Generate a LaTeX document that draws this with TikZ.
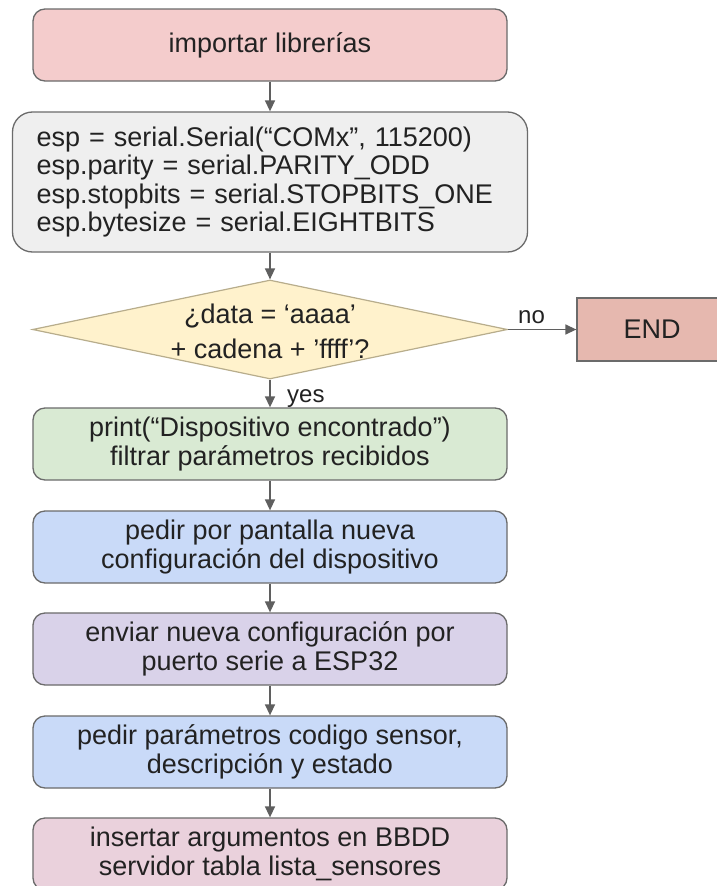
\documentclass[tikz,border=0pt]{standalone}
\usepackage{fontspec}
\setmainfont{Liberation Sans}
\usetikzlibrary{shapes.geometric,arrows.meta}

\definecolor{txt}{HTML}{222222}
\definecolor{bordergray}{HTML}{6B6B6B}
\definecolor{arrowgray}{HTML}{5F5F5F}
\definecolor{decborder}{HTML}{B8AD8C}
\definecolor{cImport}{HTML}{F4CCCC}
\definecolor{cSerial}{HTML}{EFEFEF}
\definecolor{cDecision}{HTML}{FFF2CC}
\definecolor{cEnd}{HTML}{E6B8AF}
\definecolor{cGreen}{HTML}{D9EAD3}
\definecolor{cBlue}{HTML}{C9DAF8}
\definecolor{cPurple}{HTML}{D9D2E9}
\definecolor{cPink}{HTML}{EAD1DC}

\begin{document}
\begin{tikzpicture}[x=1pt,y=-1pt,
  every node/.style={text=txt},
  box/.style={draw=bordergray, line width=1.3pt, rounded corners=12pt,
    minimum width=474pt, minimum height=72pt, align=center, inner sep=0pt,
    font=\fontsize{27}{28.5}\selectfont},
  flow/.style={draw=arrowgray, line width=1.4pt,
    -{Triangle[length=11pt,width=10pt]}},
  lbl/.style={font=\fontsize{24}{26}\selectfont, inner sep=0pt}
]
\useasboundingbox (0,0) rectangle (717,886);
\clip (0,0) rectangle (717,886);
\fill[white] (0,0) rectangle (717,886);

% process steps
\node[box, fill=cImport] (imp) at (270,45) {importar librerías};
\node[box, fill=cSerial, rounded corners=20pt, minimum width=0pt,
      text width=467pt, inner xsep=24pt, minimum height=140pt, align=left]
      (ser) at (270,182)
      {esp = serial.Serial(“COMx”, 115200)\\
       esp.parity = serial.PARITY\_ODD\\
       esp.stopbits = serial.STOPBITS\_ONE\\
       esp.bytesize = serial.EIGHTBITS};

% decision
\node[diamond, draw=decborder, fill=cDecision, line width=1.2pt,
      minimum width=475pt, minimum height=99pt, inner sep=0pt]
      (dec) at (270,329.5) {};
\node[font=\fontsize{27}{35}\selectfont, align=center, inner sep=0pt]
      (dectext) at ([yshift=-2pt]dec.center) {¿data = ‘aaaa’\\+ cadena + ’ffff’?};

\node[draw=bordergray, fill=cEnd, line width=1.3pt, minimum width=150pt,
      minimum height=63pt, font=\fontsize{27}{28}\selectfont]
      (end) at (652,329.5) {END};

\node[box, fill=cGreen] (found) at (270,444)
      {print(“Dispositivo encontrado”)\\filtrar parámetros recibidos};
\node[box, fill=cBlue] (ask) at (270,547)
      {pedir por pantalla nueva\\configuración del dispositivo};
\node[box, fill=cPurple] (send) at (270,649)
      {enviar nueva configuración por\\puerto serie a ESP32};
\node[box, fill=cBlue] (params) at (270,752)
      {pedir parámetros codigo sensor,\\descripción y estado};
\node[box, fill=cPink] (insert) at (270,854)
      {insertar argumentos en BBDD\\servidor tabla lista\_sensores};

% connectors
\draw[flow] (imp.south) -- (ser.north);
\draw[flow] (ser.south) -- (dec.north);
\draw[flow] (dec.east) -- (end.west);
\draw[flow] (dec.south) -- (found.north);
\draw[flow] (found.south) -- (ask.north);
\draw[flow] (ask.south) -- (send.north);
\draw[flow] (send.south) -- (params.north);
\draw[flow] (params.south) -- (insert.north);

% branch labels
\node[lbl, anchor=base] (nolbl) at (531.5,323) {no};
\node[lbl, anchor=base west] (yeslbl) at (287,402) {yes};
\end{tikzpicture}
\end{document}
